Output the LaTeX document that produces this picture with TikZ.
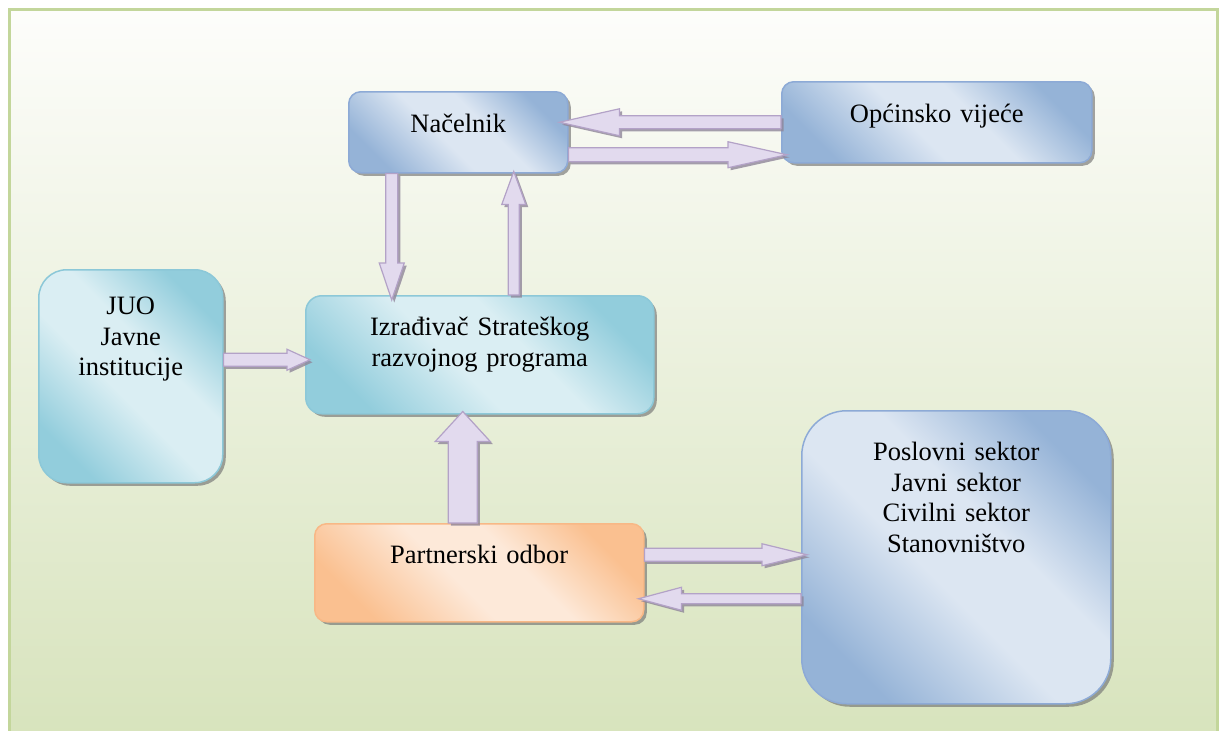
\documentclass[tikz,border=0pt]{standalone}
\usepackage{fontspec}
\setmainfont{Liberation Serif}
\usetikzlibrary{calc,shadows}

\definecolor{bluedk}{HTML}{95B3D7}
\definecolor{bluelt}{HTML}{DCE6F2}
\definecolor{blueln}{HTML}{8DAAD6}
\definecolor{cyandk}{HTML}{92CDDC}
\definecolor{cyanlt}{HTML}{DAEEF3}
\definecolor{cyanln}{HTML}{8CC8D8}
\definecolor{orangedk}{HTML}{FAC090}
\definecolor{orangelt}{HTML}{FDE9D9}
\definecolor{orangeln}{HTML}{F8B886}
\definecolor{arrfill}{HTML}{E2DAEE}
\definecolor{arrline}{HTML}{B3A2C7}
\definecolor{arrshade}{HTML}{8F8699}
\definecolor{frameln}{HTML}{C3D69B}
\definecolor{frametop}{HTML}{FDFDFB}
\definecolor{framebot}{HTML}{D7E3BC}

\pgfdeclarehorizontalshading{blueshade}{100bp}{color(0bp)=(bluedk); color(25bp)=(bluedk); color(45bp)=(bluelt); color(58bp)=(bluelt); color(75bp)=(bluedk); color(100bp)=(bluedk)}
\pgfdeclarehorizontalshading{cyanshade}{100bp}{color(0bp)=(cyandk); color(25bp)=(cyandk); color(45bp)=(cyanlt); color(58bp)=(cyanlt); color(75bp)=(cyandk); color(100bp)=(cyandk)}
\pgfdeclarehorizontalshading{orangeshade}{100bp}{color(0bp)=(orangedk); color(25bp)=(orangedk); color(45bp)=(orangelt); color(58bp)=(orangelt); color(75bp)=(orangedk); color(100bp)=(orangedk)}

% fat arrow: start, end, half shaft, half head, head length
\newcommand\fatarrow[5]{%
  \fill[arrowshadow] let \p1=(#1), \p2=(#2), \n1={atan2(\y2-\y1,\x2-\x1)}, \n2={veclen(\x2-\x1,\y2-\y1)} in
    {[shift={(2.5pt,-2.5pt)}, shift={(\p1)}, rotate=\n1] (0pt,-#3) -- (\n2-#5,-#3) -- (\n2-#5,-#4) -- (\n2,0pt) -- (\n2-#5,#4) -- (\n2-#5,#3) -- (0pt,#3) -- cycle};
  \filldraw[arrowbody] let \p1=(#1), \p2=(#2), \n1={atan2(\y2-\y1,\x2-\x1)}, \n2={veclen(\x2-\x1,\y2-\y1)} in
    {[shift={(\p1)}, rotate=\n1] (0pt,-#3) -- (\n2-#5,-#3) -- (\n2-#5,-#4) -- (\n2,0pt) -- (\n2-#5,#4) -- (\n2-#5,#3) -- (0pt,#3) -- cycle};
}

\begin{document}
\begin{tikzpicture}[x=1pt, y=-1pt, font=\fontsize{26.5}{30.5}\selectfont,
    box/.style = {draw, line width=1.5pt, rounded corners=12pt, inner xsep=0pt, inner ysep=0pt,
      align=center, anchor=north west, shading angle=45,
      drop shadow={shadow xshift=3pt, shadow yshift=-3pt, opacity=.65, fill=black!55}},
    bluebox/.style = {box, draw=blueln, shading=blueshade},
    cyanbox/.style = {box, draw=cyanln, shading=cyanshade},
    orangebox/.style = {box, draw=orangeln, shading=orangeshade},
    arrowbody/.style = {fill=arrfill, draw=arrline, line width=1.2pt, line join=miter},
    arrowshadow/.style = {fill=arrshade, opacity=.8}]
    \useasboundingbox (0,0) rectangle (1219,731);
    % background frame
    \draw[frameln, line width=3pt, top color=frametop, bottom color=framebot] (9,9) rectangle (1217,745);

    \node[bluebox, text width=219pt, text height=41pt, text depth=40pt] (nac) at (348,91) {Načelnik};
    \node[bluebox, text width=310pt, text height=41pt, text depth=40pt] (ovij) at (781,81) {Općinsko vijeće};
    \node[cyanbox, rounded corners=16pt, text width=348pt, text height=40pt, text depth=78pt] (izr) at (305,295) {Izrađivač Strateškog\\razvojnog programa};
    \node[cyanbox, rounded corners=28pt, text width=184pt, text height=45pt, text depth=168pt] (juo) at (38,269) {JUO\\Javne\\institucije};
    \node[orangebox, text width=329pt, text height=40pt, text depth=58pt] (pod) at (314,523) {Partnerski odbor};
    \node[bluebox, rounded corners=45pt, text width=309pt, text height=50pt, text depth=243pt] (sek) at (801,410) {Poslovni sektor\\Javni sektor\\Civilni sektor\\Stanovništvo};

    \fatarrow{ovij.west}{[shift={(-9pt,10pt)}]nac.east}{6.5pt}{13.5pt}{60pt}
    \fatarrow{[yshift=-22.5pt]nac.east}{[shift={(6pt,-32.5pt)}]ovij.west}{7pt}{13pt}{59pt}
    \fatarrow{[xshift=-66.5pt]nac.south}{[shift={(-88pt,-5pt)}]izr.north}{6pt}{12.5pt}{37pt}
    \fatarrow{[xshift=34pt]izr.north}{[shift={(55.5pt,2pt)}]nac.south}{5.5pt}{12pt}{33pt}
    \fatarrow{[yshift=16.5pt]juo.east}{[shift={(5pt,-5pt)}]izr.west}{6.5pt}{10.5pt}{23pt}
    \fatarrow{[xshift=-16.5pt]pod.north}{[shift={(-17pt,3pt)}]izr.south}{14.5pt}{27.5pt}{30pt}
    \fatarrow{[yshift=18pt]pod.east}{[shift={(6pt,2.5pt)}]sek.west}{6.5pt}{11pt}{45pt}
    \fatarrow{[yshift=-41.5pt]sek.west}{[shift={(-6pt,-26pt)}]pod.east}{5pt}{11.5pt}{43pt}
\end{tikzpicture}
\end{document}
